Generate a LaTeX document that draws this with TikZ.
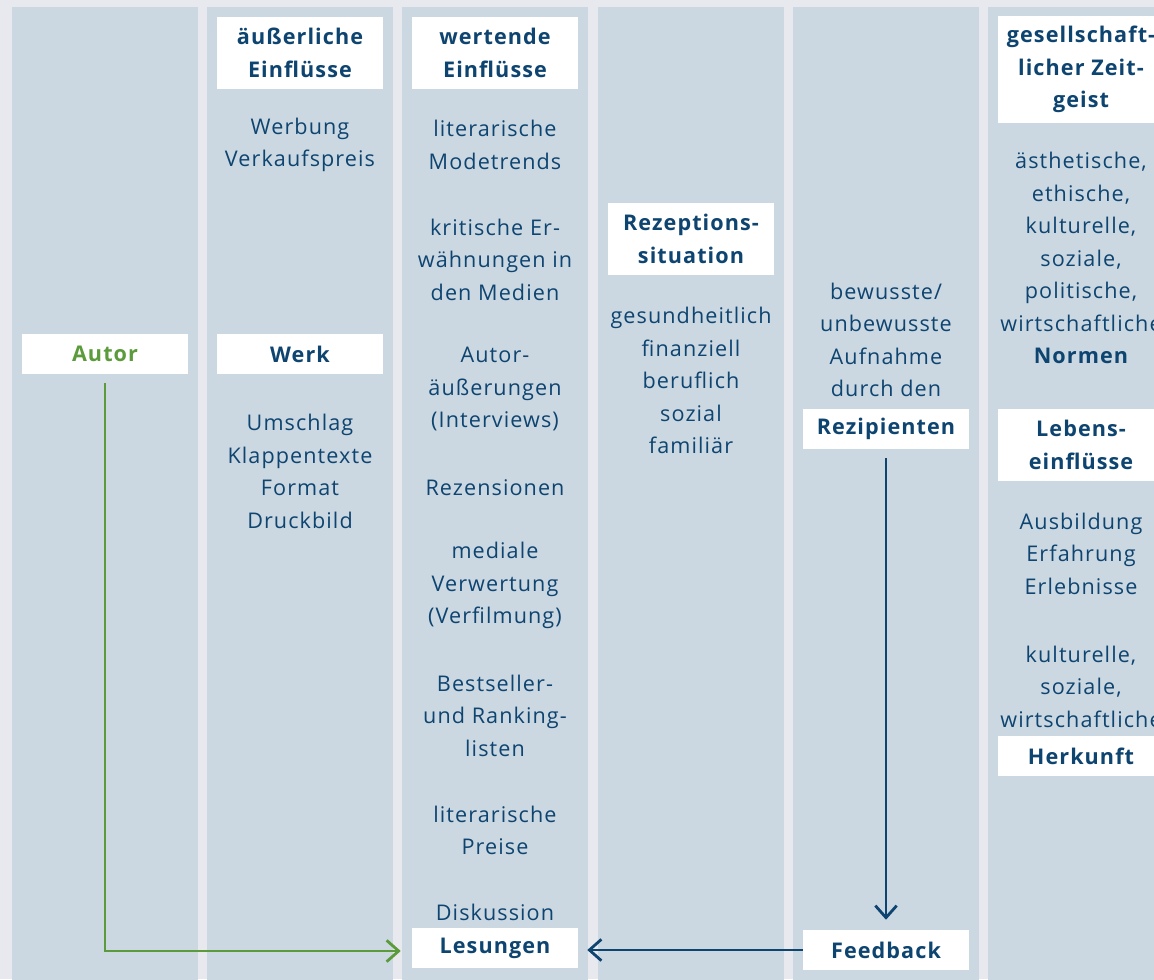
\documentclass[tikz,border=0pt]{standalone}
\usepackage{fontspec}
\setmainfont[LetterSpace=5]{Open Sans}
\usetikzlibrary{arrows.meta}
\definecolor{bg}{HTML}{E8E9EE}
\definecolor{colfill}{HTML}{CBD8E2}
\definecolor{txt}{HTML}{0E4470}
\definecolor{grn}{HTML}{5B9B3B}
\tikzset{
  base/.style={text=txt, align=center, inner sep=0pt},
  t/.style={base, font=\fontsize{16.2}{24.4}\selectfont, yshift=-1.5pt},
  tb/.style={base, font=\bfseries\fontsize{16.2}{24.4}\selectfont, yshift=-1.5pt},
  hb/.style={base, fill=white, font=\bfseries\fontsize{16.2}{24.4}\selectfont, minimum width=124.5pt, minimum height=30pt},
  conn/.style={line width=2.1pt, -{Straight Barb[length=9pt,width=16pt]}}
}
\begin{document}
\begin{tikzpicture}[x=0.75pt,y=-0.75pt]
\useasboundingbox (0,0) rectangle (1154,979);
\clip (0,0) rectangle (1154,979);
\fill[bg] (0,0) rectangle (1154,979);
\foreach \x in {12,207,402,598,793,988} \fill[colfill] (\x,7) rectangle ++(186,990);
% column 1
\node[hb, text=grn] (autor) at (105,354) {Autor};
% column 2
\node[hb, minimum height=54pt] (h2) at (300,53) {äußerliche\\Einflüsse};
\node[t] (t2a) at (300,143) {Werbung\\Verkaufspreis};
\node[hb] (werk) at (300,354) {Werk};
\node[t] (t2b) at (300,469.5) {Umschlag\\Klappentexte\\Format\\Druckbild};
% column 3
\node[hb, minimum height=54pt] (h3) at (495,53) {wertende\\Einflüsse};
\node[t] (t3a) at (495,143) {literarische\\Modetrends};
\node[t] (t3b) at (495,257.5) {kritische Er-\\wähnungen in\\den Medien};
\node[t] (t3c) at (495,387) {Autor-\\äußerungen\\(Interviews)};
\node[t] (t3d) at (495,486) {Rezensionen};
\node[t] (t3e) at (495,583.5) {mediale\\Verwertung\\(Verfilmung)};
\node[t] (t3f) at (495,713.5) {Bestseller-\\und Ranking-\\listen};
\node[t] (t3g) at (495,828.5) {literarische\\Preise};
\node[t] (t3h) at (495,910) {Diskussion};
\node[hb] (les) at (495,948) {Lesungen};
% column 4
\node[hb, minimum height=54pt] (h4) at (691,239) {Rezeptions-\\situation};
\node[t] (t4a) at (691,378.5) {gesundheitlich\\finanziell\\beruflich\\sozial\\familiär};
% column 5
\node[t] (t5a) at (886,338) {bewusste/\\unbewusste\\Aufnahme\\durch den};
\node[hb] (rez) at (886,429) {Rezipienten};
\node[hb] (fb) at (886,950) {Feedback};
% column 6
\node[hb, minimum height=80.25pt] (h6) at (1081,69.5) {gesellschaft-\\licher Zeit-\\geist};
\node[t] (t6a) at (1081,240) {ästhetische,\\ethische,\\kulturelle,\\soziale,\\politische,\\wirtschaftliche};
\node[tb] (norm) at (1081,354) {Normen};
\node[hb, minimum height=54pt] (h6b) at (1081,445) {Lebens-\\einflüsse};
\node[t] (t6b) at (1081,551.5) {Ausbildung\\Erfahrung\\Erlebnisse};
\node[t] (t6c) at (1081,684.5) {kulturelle,\\soziale,\\wirtschaftliche};
\node[hb] (herk) at (1081,756) {Herkunft};
% connectors
\draw[conn, grn] ([yshift=-6.75pt]autor.south) |- ([xshift=-8.25pt, yshift=-2.25pt]les.west);
\draw[conn, txt] ([yshift=-6.75pt]rez.south) -- ([yshift=7.5pt]fb.north);
\draw[conn, txt] (fb.west) -- ([xshift=6.75pt]les.east |- fb.west);
\end{tikzpicture}
\end{document}
